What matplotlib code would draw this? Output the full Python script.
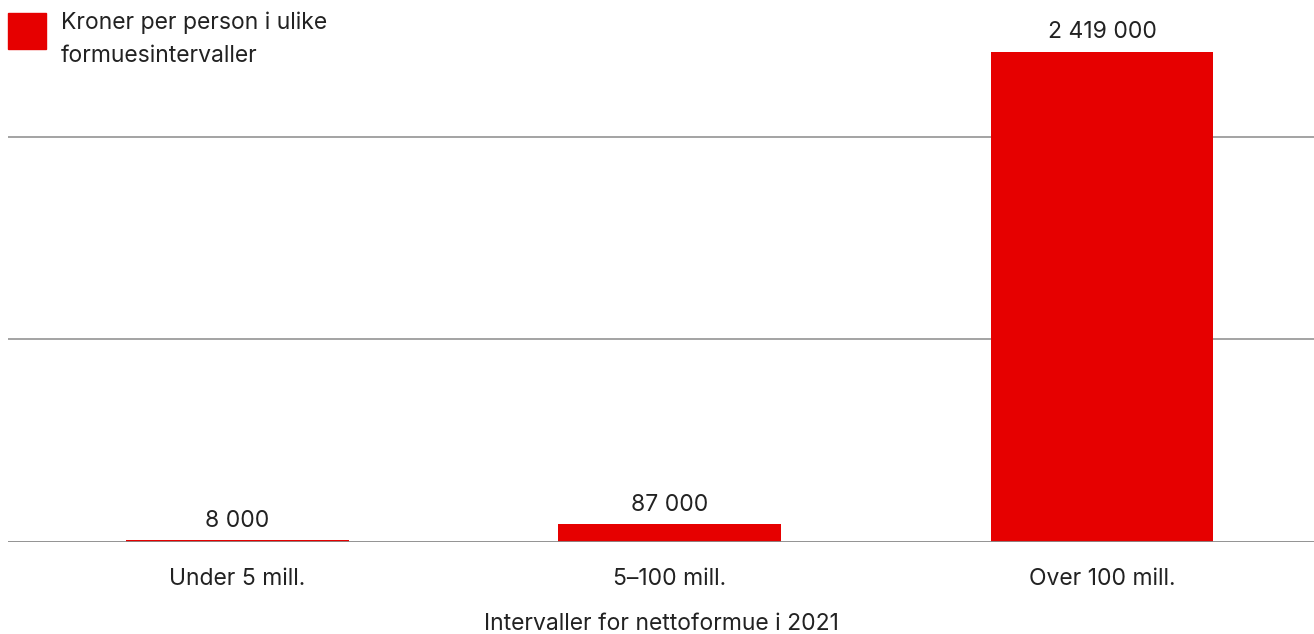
import matplotlib.pyplot as plt
from matplotlib.patches import Rectangle

kategorier = ["Under 5 mill.", "5–100 mill.", "Over 100 mill."]
kroner = [8000, 87000, 2419000]
etiketter = ["8 000", "87 000", "2 419 000"]
rutenett = [1000000, 2000000]

rod = "#e60000"
tekst = "#222222"
grå = "#8a8a8a"

plt.rcParams['font.family'] = ['Inter', 'DejaVu Sans']

fig = plt.figure(figsize=(13.14, 6.34), dpi=100)
ax = fig.add_axes([8/1314, 1 - 541.5/634, 1 - 8/1314, 541.5/634])

x = range(len(kategorier))
ax.bar(x, kroner, width=0.515, color=rod, zorder=2)

for xi, v, lab in zip(x, kroner, etiketter):
    ax.annotate(lab, (xi, v), xytext=(0, 6), textcoords="offset points",
                ha="center", va="bottom", fontsize=16.5, color=tekst)

for g in rutenett:
    ax.axhline(g, color=grå, linewidth=1.1, zorder=1)
ax.axhline(0, color=grå, linewidth=1.3, zorder=3)

ax.set_xlim(-0.53, 2.49)
ax.set_ylim(0, 541.5 / 202.5 * 1e6)
ax.set_xticks(list(x))
ax.set_xticklabels(kategorier, fontsize=16.5, color=tekst)
ax.tick_params(axis="x", length=0, pad=19)
ax.set_yticks([])
for s in ax.spines.values():
    s.set_visible(False)

ax.set_xlabel("Intervaller for nettoformue i 2021", fontsize=16.5, color=tekst, labelpad=17)

# legende
fig.patches.append(Rectangle((8/1314, 1 - 49/634), 38/1314, 36/634,
                             transform=fig.transFigure, color=rod))
fig.text(61/1314, 1 - 12/634, "Kroner per person i ulike\nformuesintervaller",
         ha="left", va="top", fontsize=16.5, color=tekst, linespacing=1.6)

fig.savefig("out.png", dpi=100)
